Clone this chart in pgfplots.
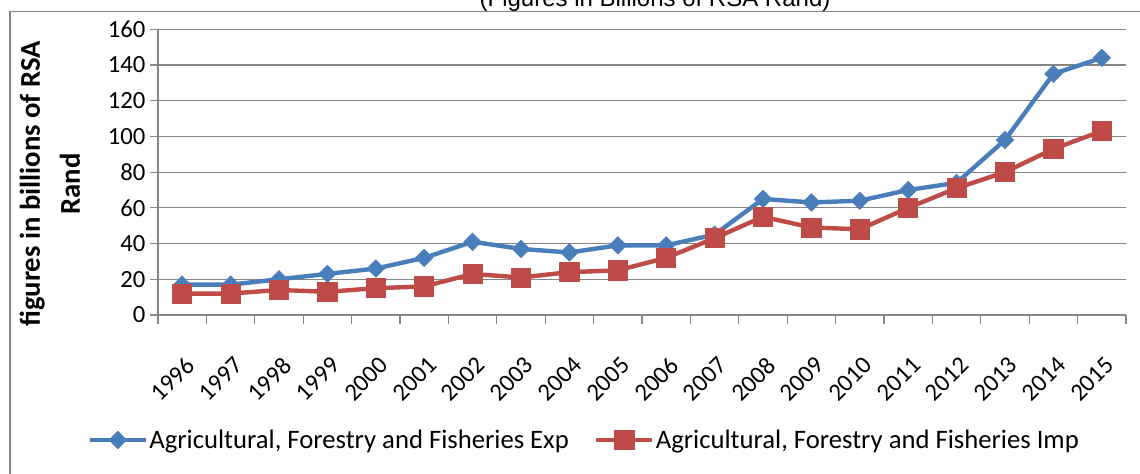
\documentclass[border=0pt]{standalone}
\usepackage{pgfplots}
\pgfplotsset{compat=1.18}
\usepackage{fontspec}
\setmainfont{Carlito}
\newfontfamily\arialfont{Liberation Sans}
\definecolor{cblue}{HTML}{4A7EBB}
\definecolor{cred}{HTML}{BE4B48}
\definecolor{cgray}{HTML}{868686}
\begin{document}
\begin{tikzpicture}
\useasboundingbox (0,0) rectangle (855pt,355.5pt);
\clip (0,0) rectangle (855pt,355.5pt);
\draw[cgray, line width=0.9pt] (7.5pt,-10pt) -- (7.5pt,346.7pt) -- (870pt,346.7pt);
\node[anchor=base, font=\arialfont\fontsize{18}{21}\selectfont] at (491.25pt,350.5pt) {(Figures in Billions of RSA Rand)};
\node[rotate=90, align=center, font=\bfseries\fontsize{21.5}{30}\selectfont] at (37.5pt,217.5pt) {figures in billions of RSA\\Rand};
\begin{axis}[
  at={(118.5pt,119.25pt)}, anchor=south west,
  scale only axis, width=726pt, height=214.3pt,
  xmin=-0.5, xmax=19.5, ymin=0, ymax=160,
  ytick={0,20,...,160},
  xtick={0,...,19},
  xticklabels={1996,1997,1998,1999,2000,2001,2002,2003,2004,2005,2006,2007,2008,2009,2010,2011,2012,2013,2014,2015},
  minor xtick={-0.5,0.5,...,19.5},
  axis x line*=bottom, axis y line*=left,
  axis line style={-, cgray, line width=0.9pt},
  tick align=outside, major tick length=6pt, minor tick length=6.5pt,
  tick style={cgray, line width=0.9pt},
  major x tick style={draw=none},
  ymajorgrids, grid style={cgray, line width=0.9pt},
  /pgf/number format/assume math mode=true,
  xticklabel style={rotate=45, anchor=north east, xshift=-12.5pt, yshift=-15pt, font=\fontsize{18.5}{20}\selectfont},
  yticklabel style={font=\fontsize{18.5}{20}\selectfont},
  clip=false,
  legend style={at={(0.440,-0.4375)}, anchor=center, draw=none, fill=none,
    legend columns=2, font=\fontsize{20}{22}\selectfont,
    nodes={inner xsep=1pt},
    /tikz/every even column/.append style={column sep=18pt}},
  legend cell align=left,
  legend image code/.code={\draw[mark repeat=2,mark phase=2] plot coordinates {(0pt,0pt)(21pt,0pt)(42pt,0pt)};},
]
\addplot[cblue, line width=3.3pt, mark=square*, mark size=4.6pt,
  mark options={rotate=45, solid, fill=cblue, draw=cblue, line width=0.5pt}]
  coordinates {(0,17)(1,17)(2,20)(3,23)(4,26)(5,32)(6,41)(7,37)(8,35)(9,39)
  (10,39)(11,45)(12,65)(13,63)(14,64)(15,70)(16,74)(17,98)(18,135)(19,144)};
\addlegendentry{Agricultural, Forestry and Fisheries Exp}
\addplot[cred, line width=3.3pt, mark=square*, mark size=7.2pt,
  mark options={solid, fill=cred, draw=cred, line width=0.5pt}]
  coordinates {(0,12)(1,12)(2,14)(3,13)(4,15)(5,16)(6,23)(7,21)(8,24)(9,25)
  (10,32)(11,43)(12,55)(13,49)(14,48)(15,60)(16,71)(17,80)(18,93)(19,103)};
\addlegendentry{Agricultural, Forestry and Fisheries Imp}
\end{axis}
\end{tikzpicture}
\end{document}
